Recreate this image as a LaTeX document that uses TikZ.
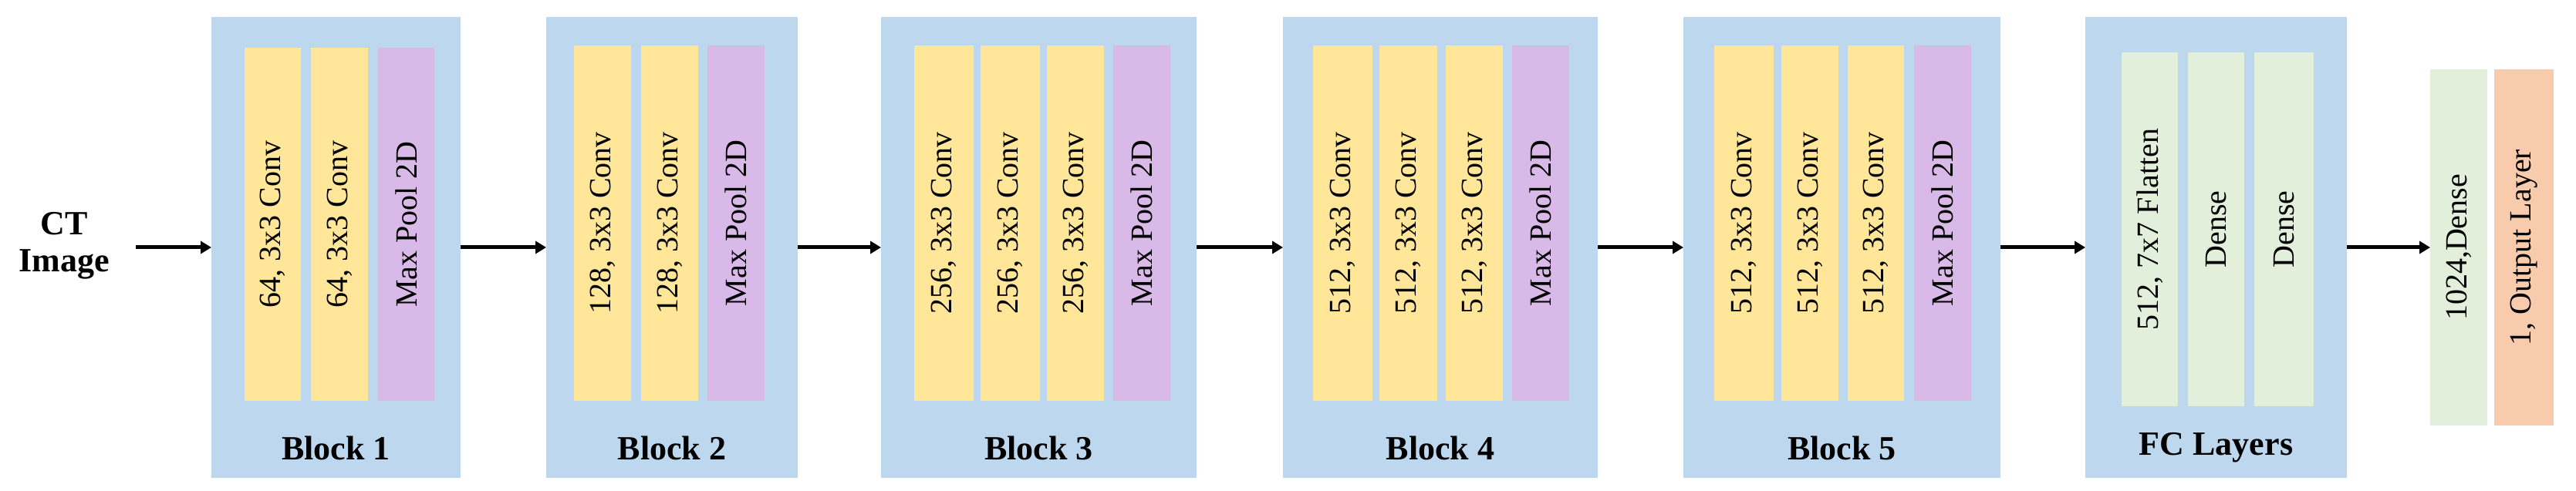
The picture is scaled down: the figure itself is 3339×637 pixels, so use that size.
\documentclass[tikz,border=0pt]{standalone}
\usepackage{fontspec}
\setmainfont{Liberation Serif}
\usetikzlibrary{arrows.meta}
\definecolor{blk}{HTML}{BDD7EE}
\definecolor{conv}{HTML}{FFE699}
\definecolor{pool}{HTML}{D9B9E8}
\definecolor{dns}{HTML}{E2EFDA}
\definecolor{outc}{HTML}{F8CBAD}
\begin{document}
\begin{tikzpicture}[x=1pt,y=1pt,
  blockbox/.style={fill=blk,draw=none},
  bar/.style={draw=none,inner sep=0pt,font=\fontsize{40}{40}\selectfont,rotate=90},
  lbl/.style={font=\bfseries\fontsize{44}{44}\selectfont,inner sep=0pt},
  arr/.style={line width=5pt,-{Triangle[length=14pt,width=16pt]}}]
\useasboundingbox (0,0) rectangle (3339,637);
% blocks: name, left, right
\foreach \n/\l/\r in {b1/274/597,b2/708/1034,b3/1142/1551,b4/1663/2071,b5/2182/2593,fc/2703/3042}{
  \path[blockbox] (\l,17) rectangle (\r,615);
  \coordinate (\n-w) at (\l,316);
  \coordinate (\n-e) at (\r,316);
}
\newcommand{\mybar}[6]{% name,left,right,color,text,top
  \fill[#4] (#2,117) rectangle (#3,#6);
  \node[bar] (#1) at ({(#2+#3)/2},{(117+#6)/2}) {#5};}
% Block 1
\mybar{c11}{317}{390}{conv}{64, 3x3 Conv}{575}
\mybar{c12}{403}{477}{conv}{64, 3x3 Conv}{575}
\mybar{p1}{490}{563}{pool}{Max Pool 2D}{575}
% Block 2
\mybar{c21}{744}{818}{conv}{128, 3x3 Conv}{578}
\mybar{c22}{831}{905}{conv}{128, 3x3 Conv}{578}
\mybar{p2}{917}{991}{pool}{Max Pool 2D}{578}
% Block 3
\mybar{c31}{1185}{1262}{conv}{256, 3x3 Conv}{578}
\mybar{c32}{1271}{1348}{conv}{256, 3x3 Conv}{578}
\mybar{c33}{1357}{1431}{conv}{256, 3x3 Conv}{578}
\mybar{p3}{1443}{1517}{pool}{Max Pool 2D}{578}
% Block 4
\mybar{c41}{1702}{1779}{conv}{512, 3x3 Conv}{578}
\mybar{c42}{1788}{1863}{conv}{512, 3x3 Conv}{578}
\mybar{c43}{1874}{1948}{conv}{512, 3x3 Conv}{578}
\mybar{p4}{1960}{2034}{pool}{Max Pool 2D}{578}
% Block 5
\mybar{c51}{2222}{2299}{conv}{512, 3x3 Conv}{578}
\mybar{c52}{2309}{2383}{conv}{512, 3x3 Conv}{578}
\mybar{c53}{2395}{2468}{conv}{512, 3x3 Conv}{578}
\mybar{p5}{2481}{2555}{pool}{Max Pool 2D}{578}
% FC
\fill[dns] (2750,110) rectangle (2823,569);
\node[bar] (f1) at (2786.5,339.5) {512, 7x7 Flatten};
\fill[dns] (2836,110) rectangle (2909,569);
\node[bar] (f2) at (2872.5,339.5) {Dense};
\fill[dns] (2922,110) rectangle (2999,569);
\node[bar] (f3) at (2960.5,339.5) {Dense};
% output
\fill[dns] (3150,85) rectangle (3224,547);
\node[bar] (d1) at (3187,316) {1024,Dense};
\fill[outc] (3233,85) rectangle (3310,547);
\node[bar] (o1) at (3271.5,316) {1, Output Layer};
\coordinate (out-w) at (3150,316);
% labels
\node[lbl] (l1) at (435.5,56) {Block 1};
\node[lbl] (l2) at (871,56) {Block 2};
\node[lbl] (l3) at (1346.5,56) {Block 3};
\node[lbl] (l4) at (1867,56) {Block 4};
\node[lbl] (l5) at (2387.5,56) {Block 5};
\node[lbl] (l6) at (2872.5,56) {FC Layers};
\node[lbl,align=center] (ct) at (83,318) {CT\\[4pt]Image};
% arrows
\draw[arr] (176,316) -- (b1-w);
\draw[arr] (b1-e) -- (b2-w);
\draw[arr] (b2-e) -- (b3-w);
\draw[arr] (b3-e) -- (b4-w);
\draw[arr] (b4-e) -- (b5-w);
\draw[arr] (b5-e) -- (fc-w);
\draw[arr] (fc-e) -- (out-w);
\end{tikzpicture}
\end{document}
